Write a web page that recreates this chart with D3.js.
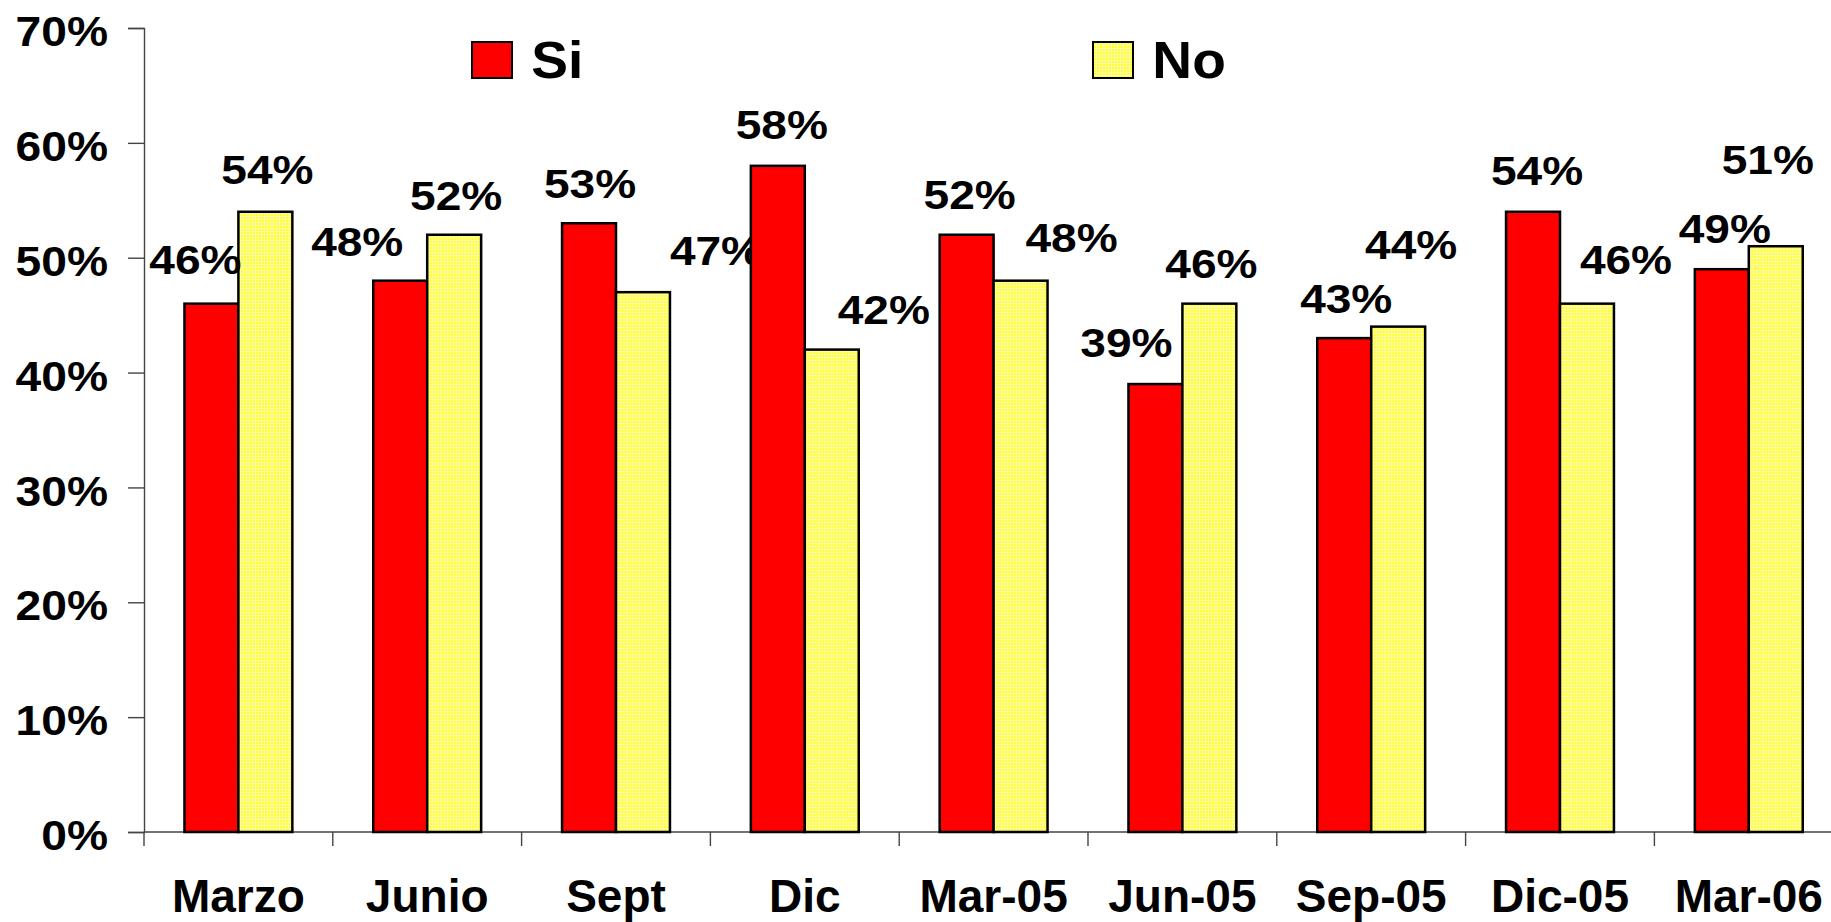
<!DOCTYPE html>
<html>
<head>
<meta charset="utf-8">
<script src="https://cdn.jsdelivr.net/npm/d3@7"></script>
<style>
  body { margin: 0; background: #fff; }
  svg { display: block; font-family: "Liberation Sans", Arial, sans-serif; font-weight: bold; }
</style>
</head>
<body>
<svg id="myGraph" width="1831" height="922"></svg>
<script>
// datos
var categories = ["Marzo", "Junio", "Sept", "Dic", "Mar-05", "Jun-05", "Sep-05", "Dic-05", "Mar-06"];
var seriesNames = ["Si", "No"];
var siValues = [46, 48, 53, 58, 52, 39, 43, 54, 49];
var noValues = [54, 52, 47, 42, 48, 46, 44, 46, 51];
var yTicks = [0, 10, 20, 30, 40, 50, 60, 70];

// desplazamiento manual de las etiquetas (dx, dy desde el tope de la barra)
var siLabelShift = [[-16, -30], [-43, -25], [1, -25.5], [4, -26.5], [3, -25.5], [-29, -27], [2, -25.5], [4, -27], [3, -26]];
var noLabelShift = [[2, -27.5], [2, -25], [73, -27], [52, -25.3], [51, -28.4], [2, -25.3], [13, -68], [39, -29.6], [-8, -72]];

var svg = d3.select("#myGraph");

// escalas
var x = d3.scaleBand()
  .domain(categories)
  .range([144, 144 + 9 * 188.8])
  .paddingInner(0)
  .paddingOuter(0);

var x1 = d3.scaleBand()
  .domain(seriesNames)
  .range([0, x.bandwidth()])
  .paddingInner(0)
  .paddingOuter(0.75);

var y = d3.scaleLinear()
  .domain([0, 70])
  .range([832, 28]);

// patron amarillo
var defs = svg.append("defs");
var pat = defs.append("pattern")
  .attr("id", "yellowDots")
  .attr("patternUnits", "userSpaceOnUse")
  .attr("width", 3)
  .attr("height", 3);
pat.append("rect").attr("width", 3).attr("height", 3).attr("fill", "#ffff30");
pat.append("rect").attr("width", 3).attr("height", 1).attr("fill", "#fffca8");
pat.append("rect").attr("width", 1).attr("height", 3).attr("fill", "#fffca8");

var fills = { "Si": "#ff0000", "No": "url(#yellowDots)" };

// eje Y
var yAxis = svg.append("g")
  .attr("class", "axis")
  .attr("transform", "translate(144,0)")
  .call(d3.axisLeft(y)
    .tickValues(yTicks)
    .tickSize(16)
    .tickPadding(20)
    .tickFormat(function(d){ return d + "%"; }));
yAxis.select(".domain").attr("stroke", "#444").attr("stroke-width", 1.4);
yAxis.selectAll(".tick line").attr("stroke", "#444").attr("stroke-width", 1.4);
yAxis.selectAll(".tick text")
  .attr("fill", "#000")
  .attr("font-size", 43)
  .attr("font-family", "Liberation Sans, Arial, sans-serif")
  .attr("font-weight", "bold")
  .attr("x", -36 / 1.075)
  .attr("dy", "0.41em")
  .attr("transform", "scale(1.075,1)");

// eje X
var xLine = svg.append("g").attr("class", "axis_x");
xLine.append("line")
  .attr("x1", x.range()[0])
  .attr("x2", x.range()[1])
  .attr("y1", y(0))
  .attr("y2", y(0))
  .attr("stroke", "#444")
  .attr("stroke-width", 1.4);
xLine.selectAll(".xtick")
  .data(categories)
  .enter()
  .append("line")
  .attr("class", "xtick")
  .attr("x1", function(d){ return x(d); })
  .attr("x2", function(d){ return x(d); })
  .attr("y1", y(0))
  .attr("y2", y(0) + 14)
  .attr("stroke", "#444")
  .attr("stroke-width", 1.4);
xLine.selectAll(".xlabel")
  .data(categories)
  .enter()
  .append("text")
  .attr("class", "xlabel")
  .attr("x", function(d){ return x(d) + x.bandwidth() / 2; })
  .attr("y", y(0) + 80)
  .attr("text-anchor", "middle")
  .attr("font-size", 46)
  .attr("fill", "#000")
  .text(function(d){ return d; });

// barras
var rows = categories.map(function(c, i){
  return { cat: c, i: i, vals: [
    { name: "Si", value: siValues[i], shift: siLabelShift[i] },
    { name: "No", value: noValues[i], shift: noLabelShift[i] }
  ]};
});

var groups = svg.selectAll(".grp")
  .data(rows)
  .enter()
  .append("g")
  .attr("class", "grp")
  .attr("transform", function(d){ return "translate(" + x(d.cat) + ",0)"; });

groups.selectAll("rect")
  .data(function(d){ return d.vals; })
  .enter()
  .append("rect")
  .attr("x", function(d){ return x1(d.name); })
  .attr("y", function(d){ return y(d.value); })
  .attr("width", x1.bandwidth())
  .attr("height", function(d){ return y(0) - y(d.value); })
  .attr("fill", function(d){ return fills[d.name]; })
  .attr("stroke", "#000")
  .attr("stroke-width", 2.5);

// etiquetas de valor
groups.selectAll(".pieNum")
  .data(function(d){ return d.vals; })
  .enter()
  .append("g")
  .attr("class", "pieNum")
  .attr("transform", function(d){
    var cx = x1(d.name) + x1.bandwidth() / 2 + d.shift[0];
    var cy = y(d.value) + d.shift[1];
    return "translate(" + cx + "," + cy + ")";
  })
  .append("text")
  .attr("text-anchor", "middle")
  .attr("font-size", 41.5)
  .attr("fill", "#000")
  .attr("transform", "scale(1.11,1)")
  .text(function(d){ return d.value + "%"; });

// leyenda
var legendX = { "Si": 472, "No": 1093 };
var legend = svg.selectAll(".legend")
  .data(seriesNames)
  .enter()
  .append("g")
  .attr("class", "legend")
  .attr("transform", function(d){ return "translate(" + legendX[d] + ",42)"; });
legend.append("rect")
  .attr("width", 40)
  .attr("height", 36)
  .attr("fill", function(d){ return fills[d]; })
  .attr("stroke", "#000")
  .attr("stroke-width", 2);
legend.append("text")
  .attr("x", 56)
  .attr("y", 36)
  .attr("font-size", 52)
  .attr("fill", "#000")
  .attr("transform", "scale(1.06,1)")
  .text(function(d){ return d; });
</script>
</body>
</html>
